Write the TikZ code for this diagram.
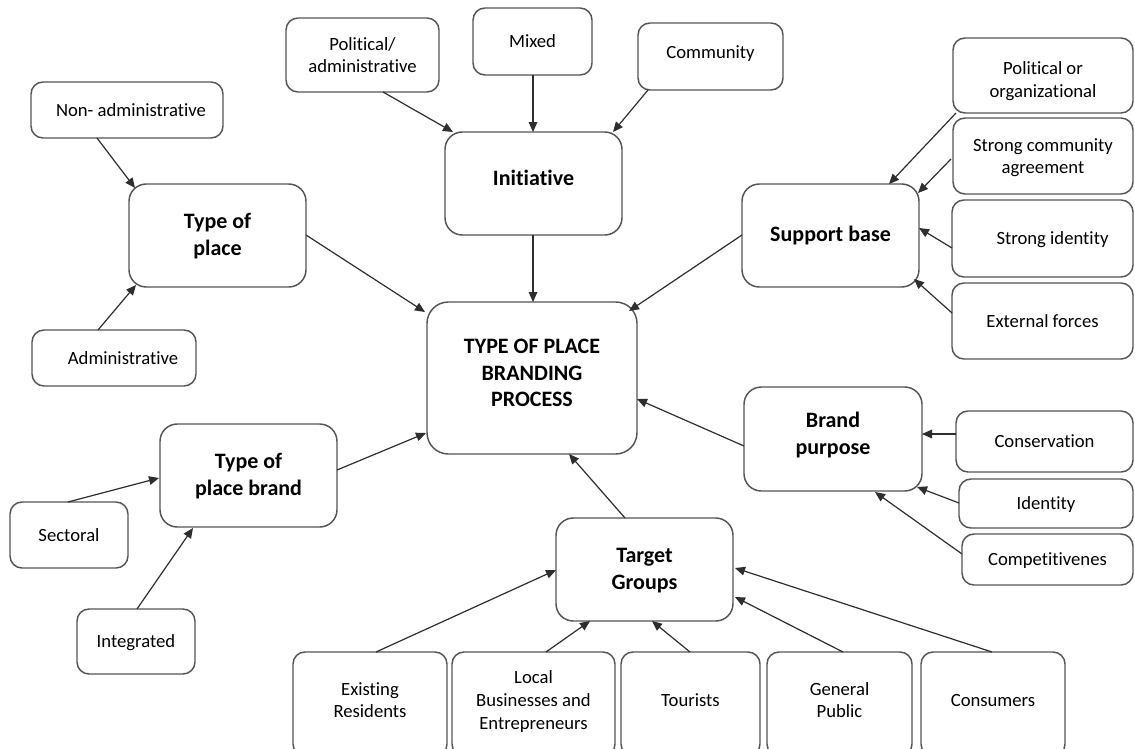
\documentclass[tikz,border=0pt]{standalone}
\usepackage{fontspec}
\setmainfont{Carlito}[RawFeature={-liga;-clig}]
\usetikzlibrary{fit,calc,arrows.meta}
\definecolor{boxgray}{HTML}{555555}
\definecolor{arrowgray}{HTML}{2E2E2E}
% centred text block of zero size, optionally raised
\newcommand\tb[2][0pt]{\raisebox{\dimexpr-5pt+#1\relax}[0pt][0pt]{\begin{tabular}{@{}c@{}}#2\end{tabular}}}
\begin{document}
\begin{tikzpicture}[x=0.75pt,y=-0.75pt,
  box/.style={draw=boxgray, line width=1.1pt, rounded corners=9pt, inner sep=0pt, outer sep=0pt, font=\fontsize{14}{17}\selectfont},
  bigbox/.style={box, rounded corners=13pt, font=\fontsize{16.5}{20}\selectfont\bfseries},
  arr/.style={draw=arrowgray, line width=0.9pt, -{Triangle[length=7.5pt,width=6.5pt]}}]
\clip (0,0) rectangle (1135,749);
\fill[white] (0,0) rectangle (1135,749);

% top: initiative
\node[box, fit={(286,18) (439,92)}] (pa) {\tb{Political/\\administrative}};
\node[box, fit={(473,8) (592,75)}] (mx) {\tb{Mixed}};
\node[box, fit={(638,23) (783,90)}] (cm) {\tb[3pt]{Community}};
\node[bigbox, fit={(445,132) (622,235)}] (ini) {\tb[3pt]{Initiative}};

% left: type of place
\node[box, fit={(31,82) (223,138)}] (na) {\tb{\hspace*{6pt}Non- administrative}};
\node[bigbox, fit={(129,184) (306,287)}] (tp) {\tb{Type of\\place}};
\node[box, fit={(32,330) (196,386)}] (ad) {\tb{\hspace*{13.5pt}Administrative}};

% centre
\node[bigbox, rounded corners=16pt, fit={(427,302) (637,454)}] (ctr) {\tb[3pt]{TYPE OF PLACE\\BRANDING\\PROCESS}};

% right: support base
\node[bigbox, fit={(742,184) (919,287)}] (sb) {\tb{Support base}};
\node[box, fit={(953,38) (1133,113)}] (po) {\tb[-3pt]{Political or\\organizational}};
\node[box, fit={(953,118) (1133,194)}] (sc) {\tb{Strong community\\agreement}};
\node[box, fit={(952,200) (1133,277)}] (si) {\tb{\hspace*{15pt}Strong identity}};
\node[box, fit={(952,283) (1133,359)}] (ef) {\tb{External forces}};

% right: brand purpose
\node[bigbox, fit={(744,387) (922,491)}] (bp) {\tb[3pt]{Brand\\purpose}};
\node[box, fit={(956,411) (1133,472)}] (co) {\tb{Conservation}};
\node[box, fit={(959,479) (1133,528)}] (id) {\tb{Identity}};
\node[box, fit={(962,534) (1133,585)}] (cp) {\tb{Competitivenes}};

% left: type of place brand
\node[bigbox, fit={(160,424) (337,527)}] (tpb) {\tb{Type of\\place brand}};
\node[box, fit={(10,502) (128,568)}] (se) {\tb{Sectoral}};
\node[box, fit={(77,609) (195,674)}] (ig) {\tb{Integrated}};

% bottom: target groups
\node[bigbox, fit={(556,518) (733,621)}] (tg) {\tb{Target\\Groups}};
\node[box, fit={(293,652) (447,756)}] (er) {\tb[3pt]{Existing\\Residents}};
\node[box, fit={(452,652) (615,756)}] (lb) {\tb[3pt]{Local\\Businesses and\\Entrepreneurs}};
\node[box, fit={(621,652) (760,756)}] (to) {\tb[3pt]{Tourists}};
\node[box, fit={(767,652) (912,756)}] (gp) {\tb[3pt]{General\\Public}};
\node[box, fit={(921,652) (1065,756)}] (cs) {\tb[3pt]{Consumers}};

% connectors
\draw[arr] ($(pa.north west)+(97,74)$) -- ($(ini.north west)+(8,0)$);
\draw[arr] ($(mx.north west)+(60,67)$) -- ($(ini.north west)+(88,0)$);
\draw[arr] ($(cm.north west)+(10,67)$) -- ($(ini.north west)+(168,0)$);
\draw[arr] ($(na.north west)+(66,56)$) -- ($(tp.north west)+(6,4)$);
\draw[arr] ($(ad.north west)+(66,0)$) -- ($(tp.north west)+(7,101)$);
\draw[arr] ($(tp.north west)+(177,51)$) -- ($(ctr.north west)+(-2,10)$);
\draw[arr] ($(ini.north west)+(88,103)$) -- ($(ctr.north west)+(106,0)$);
\draw[arr] ($(sb.north west)+(0,51)$) -- ($(ctr.north west)+(202,9)$);
\draw[arr] ($(po.north west)+(3,75)$) -- ($(sb.north west)+(147,0)$);
\draw[arr] ($(sc.north west)+(-2,41)$) -- ($(sb.north west)+(176,9)$);
\draw[arr] ($(si.north west)+(0,48)$) -- ($(sb.north west)+(177,44)$);
\draw[arr] ($(ef.north west)+(0,30)$) -- ($(sb.north west)+(172,95)$);
\draw[arr] ($(bp.north west)+(0,59)$) -- ($(ctr.north west)+(210,97)$);
\draw[arr] ($(co.north west)+(0,23)$) -- ($(bp.north west)+(178,47)$);
\draw[arr] ($(id.north west)+(0,24)$) -- ($(bp.north west)+(173,100)$);
\draw[arr] ($(cp.north west)+(0,20)$) -- ($(bp.north west)+(131,105)$);
\draw[arr] ($(tg.north west)+(69,0)$) -- ($(ctr.north west)+(142,152)$);
\draw[arr] ($(tpb.north west)+(177,46)$) -- ($(ctr.north west)+(-1,131)$);
\draw[arr] ($(se.north west)+(58,0)$) -- ($(tpb.north west)+(-1,54)$);
\draw[arr] ($(ig.north west)+(60,0)$) -- ($(tpb.north west)+(33,104)$);
\draw[arr] ($(er.north west)+(83,0)$) -- ($(tg.north west)+(0,52)$);
\draw[arr] ($(lb.north west)+(94,0)$) -- ($(tg.north west)+(34,103)$);
\draw[arr] ($(to.north west)+(69,0)$) -- ($(tg.north west)+(96,103)$);
\draw[arr] ($(gp.north west)+(76,0)$) -- ($(tg.north west)+(179,79)$);
\draw[arr] ($(cs.north west)+(71,0)$) -- ($(tg.north west)+(179,50)$);
\end{tikzpicture}
\end{document}
